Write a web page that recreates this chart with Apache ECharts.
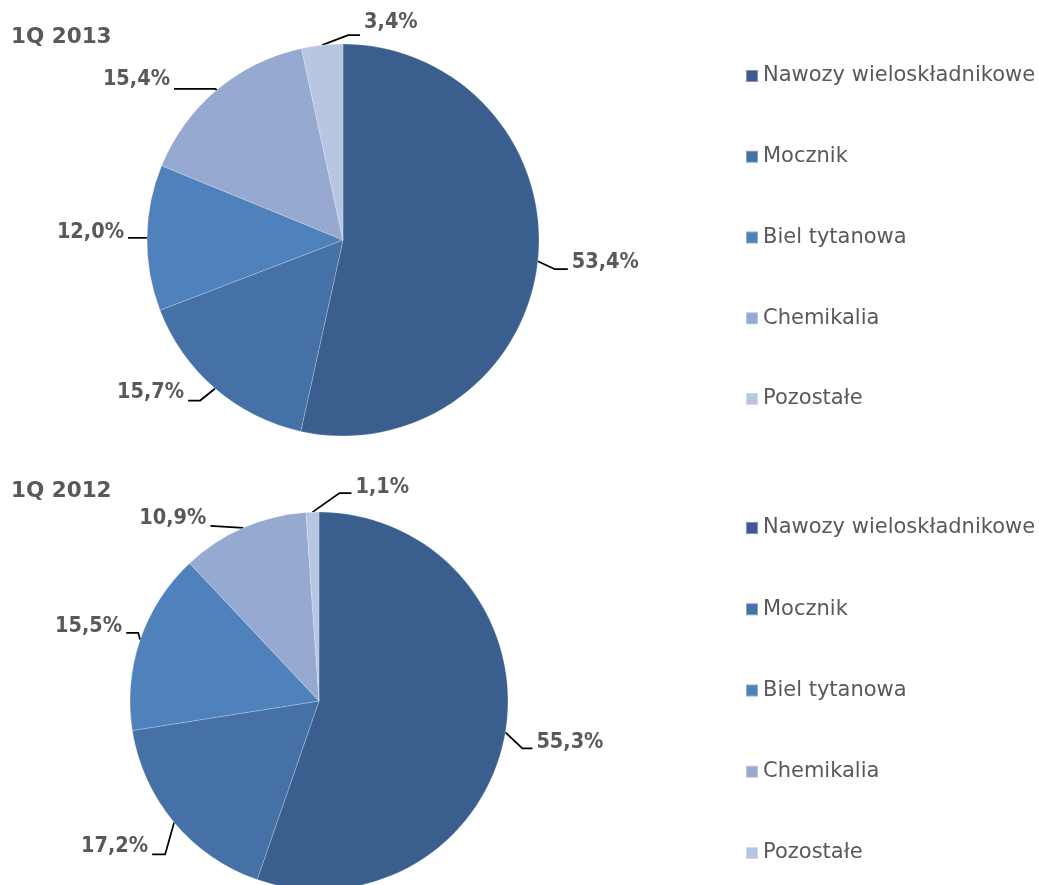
<!DOCTYPE html>
<html>
<head>
<meta charset="utf-8">
<script src="https://cdn.jsdelivr.net/npm/echarts@6/dist/echarts.min.js"></script>
<style>
  html, body { margin: 0; padding: 0; background: #fff; }
  #chart { width: 1039px; height: 885px; }
</style>
</head>
<body>
<div id="chart"></div>
<script>
// kategorie (grupy produktów)
const categories = ['Nawozy wieloskładnikowe', 'Mocznik', 'Biel tytanowa', 'Chemikalia', 'Pozostałe'];
// udział w %
const values2013 = [53.4, 15.7, 12.0, 15.4, 3.4];
const values2012 = [55.3, 17.2, 15.5, 10.9, 1.1];
const periods = ['1Q 2013', '1Q 2012'];

// linie odniesienia etykiet: [dx, dy łamania od krawędzi, odcinek poziomy, przesunięcie tekstu]
const leaders2013 = [[17, 8, 13, -7], [-15, 12, -12, -8], [-1, 0, -18, -5], [-2, -1, -41, -9], [26, -10, 12, -13]];
const leaders2012 = [[17, 16, 10, -6], [-9, 32, -13, -8], [-2, -7, -12, -6], [-33, -2, 0, -7], [27, -19, 12, -6]];

const colors = ['#3A5F8E', '#4571A6', '#4F81BD', '#95A9D1', '#B9C6E1'];
const textColor = '#595959';
const fontFamily = '"DejaVu Sans", Verdana, sans-serif';
const labelFont = '"DejaVu Sans Condensed", "DejaVu Sans", sans-serif';

const chart = echarts.init(document.getElementById('chart'));

function toData(values) {
  return categories.map((name, i) => ({ name, value: values[i] }));
}

function pieSeries(values, center, radius, leaders) {
  return {
    type: 'pie',
    center,
    radius,
    startAngle: 90,
    clockwise: true,
    avoidLabelOverlap: false,
    data: toData(values),
    itemStyle: { borderColor: 'rgba(255,255,255,0.35)', borderWidth: 0.6 },
    label: {
      show: true,
      position: 'outside',
      color: textColor,
      fontFamily: labelFont,
      fontSize: 21.5,
      fontWeight: 'bold',
      formatter: (p) => p.value.toFixed(1).replace('.', ',') + '%',
    },
    labelLine: {
      show: true,
      length: 12,
      length2: 18,
      lineStyle: { color: '#000', width: 1.75 },
    },
    // linie jak w Excelu: od krawędzi wycinka, załamanie, krótki odcinek poziomy
    labelLayout: (params) => {
      const pts = params.labelLinePoints;
      if (!pts) return {};
      const [ex, ey] = pts[0];
      const [dx, dy, h, ty] = leaders[params.dataIndex];
      const bx = ex + dx, by = ey + dy, cx = bx + h;
      const right = h > 0 || (h === 0 && dx > 0);
      return {
        x: cx + (right ? 4 : -4),
        y: by + ty,
        align: right ? 'left' : 'right',
        verticalAlign: 'middle',
        labelLinePoints: [[ex, ey], [bx, by], [cx, by]],
      };
    },
    emphasis: { disabled: true },
  };
}

function legend(top, gap) {
  return {
    orient: 'vertical',
    left: 740,
    top,
    data: categories,
    itemWidth: 12,
    itemHeight: 12,
    itemGap: gap,
    icon: 'rect',
    selectedMode: false,
    textStyle: {
      color: textColor,
      fontFamily,
      fontSize: 21,
      lineHeight: 22,
    },
  };
}

chart.setOption({
  color: colors,
  animation: false,
  title: [
    {
      text: periods[0], left: 6, top: 21,
      textStyle: { color: textColor, fontFamily, fontSize: 21.5, fontWeight: 'bold' },
    },
    {
      text: periods[1], left: 6, top: 475,
      textStyle: { color: textColor, fontFamily, fontSize: 21.5, fontWeight: 'bold' },
    },
  ],
  legend: [legend(60, 58.75), legend(512, 59.25)],
  series: [
    pieSeries(values2013, [343, 240], 196, leaders2013),
    pieSeries(values2012, [319, 701], 189, leaders2012),
  ],
});
</script>
</body>
</html>
